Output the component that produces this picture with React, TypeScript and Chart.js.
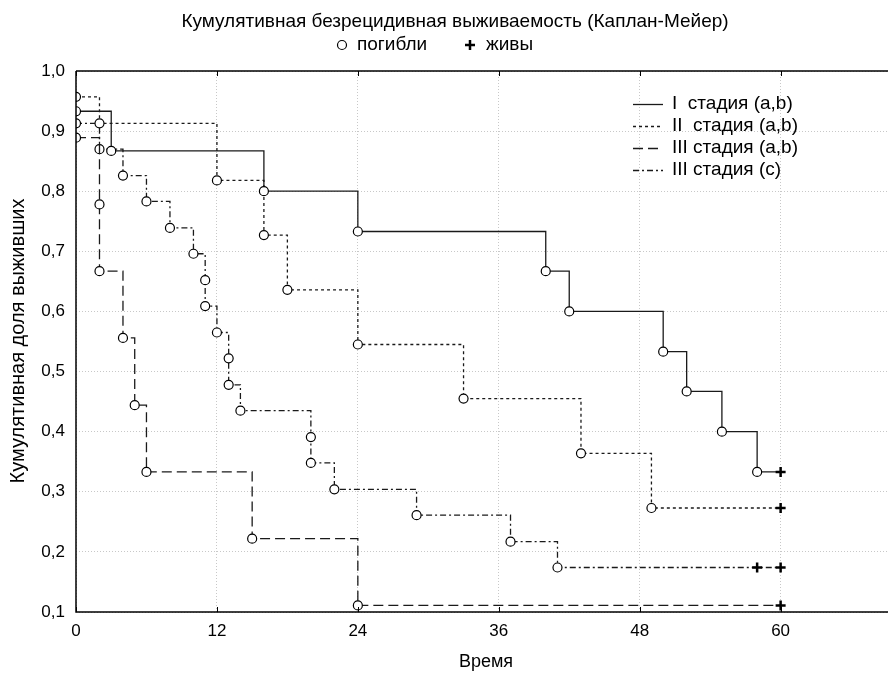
import React, { useEffect, useRef } from 'react';
import { Chart, registerables } from 'chart.js';

Chart.register(...registerables);

const chartTitle = 'Кумулятивная безрецидивная выживаемость (Каплан-Мейер)';
const markerLegendLabels = ['погибли', 'живы'];
const seriesLabels = ['I  стадия (a,b)', 'II  стадия (a,b)', 'III стадия (a,b)', 'III стадия (c)'];
const xAxisTitle = 'Время';
const yAxisTitle = 'Кумулятивная доля выживших';

const xTickValues = [0, 12, 24, 36, 48, 60, 72];
const xTickLabels = ['0', '12', '24', '36', '48', '60', '72'];
const yTickValues = [0.1, 0.2, 0.3, 0.4, 0.5, 0.6, 0.7, 0.8, 0.9, 1.0];
const yTickLabels = ['0,1', '0,2', '0,3', '0,4', '0,5', '0,6', '0,7', '0,8', '0,9', '1,0'];

// Stage I (a,b)
const stageITimes = [0, 3, 16, 24, 40, 42, 50, 52, 55, 58];
const stageIValues = [0.933, 0.867, 0.8, 0.733, 0.667, 0.6, 0.533, 0.467, 0.4, 0.333];
const stageICensored = [60];

// Stage II (a,b)
const stageIITimes = [0, 2, 12, 16, 18, 24, 33, 43, 49];
const stageIIValues = [0.957, 0.913, 0.818, 0.727, 0.636, 0.545, 0.455, 0.364, 0.273];
const stageIICensored = [60];

// Stage III (a,b)
const stageIIIabTimes = [0, 2, 2, 4, 5, 6, 15, 24];
const stageIIIabValues = [0.889, 0.778, 0.667, 0.556, 0.444, 0.333, 0.222, 0.111];
const stageIIIabCensored = [60];

// Stage III (c)
const stageIIIcTimes = [0, 2, 4, 6, 8, 10, 11, 11, 12, 13, 13, 14, 20, 20, 22, 29, 37, 41];
const stageIIIcValues = [0.913, 0.87, 0.826, 0.783, 0.739, 0.696, 0.652, 0.609, 0.565, 0.522, 0.478, 0.435, 0.391, 0.348, 0.304, 0.261, 0.217, 0.174];
const stageIIIcCensored = [58, 60];

const seriesDashes = [[], [3, 3], [10, 5], [6, 3, 2, 3]];

const FONT = '"Liberation Sans", Arial, sans-serif';
const FS = 17;
const TFS = 19;
const LINE = '#1a1a1a';

type KP = { x: number; y: number; kind: string };

function kmPoints(times: number[], values: number[], censored: number[]): KP[] {
  const pts: KP[] = [];
  let prev: number | null = null;
  times.forEach((t, i) => {
    if (prev !== null) pts.push({ x: t, y: prev, kind: 'corner' });
    pts.push({ x: t, y: values[i], kind: 'event' });
    prev = values[i];
  });
  censored.forEach((t) => pts.push({ x: t, y: prev as number, kind: 'censor' }));
  return pts;
}

const decorPlugin = {
  id: 'decor',
  afterDraw(chart: any) {
    const { ctx, chartArea: a, scales } = chart;
    const xs = scales.x;
    ctx.save();
    ctx.setLineDash([]);
    ctx.strokeStyle = '#000';
    ctx.lineWidth = 1.5;
    ctx.beginPath();
    ctx.moveTo(a.left, a.top);
    ctx.lineTo(a.left, a.bottom);
    ctx.lineTo(a.right + 40, a.bottom);
    ctx.moveTo(a.left, a.top);
    ctx.lineTo(a.right + 40, a.top);
    ctx.stroke();
    ctx.lineWidth = 1;
    ctx.beginPath();
    xTickValues.forEach((v) => {
      const px = Math.round(xs.getPixelForValue(v)) + 0.5;
      ctx.moveTo(px, a.bottom);
      ctx.lineTo(px, a.bottom - 5);
      ctx.moveTo(px, a.top);
      ctx.lineTo(px, a.top + 5);
    });
    ctx.stroke();

    ctx.fillStyle = '#000';
    ctx.font = `${TFS}px ${FONT}`;
    ctx.textBaseline = 'middle';
    ctx.textAlign = 'center';
    ctx.fillText(chartTitle, 455, 22);

    // marker legend
    const ly = 45;
    ctx.lineWidth = 1.2;
    ctx.beginPath();
    ctx.arc(342, ly, 4.5, 0, Math.PI * 2);
    ctx.fillStyle = '#fff';
    ctx.fill();
    ctx.stroke();
    ctx.fillStyle = '#000';
    ctx.textAlign = 'left';
    ctx.fillText(markerLegendLabels[0], 357, ly);
    ctx.lineWidth = 2.5;
    ctx.beginPath();
    ctx.moveTo(465, ly);
    ctx.lineTo(475, ly);
    ctx.moveTo(470, ly - 5);
    ctx.lineTo(470, ly + 5);
    ctx.stroke();
    ctx.fillText(markerLegendLabels[1], 486, ly);

    // series legend
    const rows = [104, 126, 148, 170];
    seriesLabels.forEach((lbl, i) => {
      ctx.strokeStyle = LINE;
      ctx.lineWidth = 1.3;
      ctx.setLineDash(seriesDashes[i]);
      ctx.beginPath();
      ctx.moveTo(633, rows[i] + 0.5);
      ctx.lineTo(663, rows[i] + 0.5);
      ctx.stroke();
      ctx.setLineDash([]);
      ctx.fillStyle = '#000';
      ctx.textAlign = 'left';
      ctx.fillText(lbl, 672, rows[i]);
    });

    // axis titles
    ctx.textAlign = 'center';
    ctx.font = `18px ${FONT}`;
    ctx.fillText(xAxisTitle, 486, 662);
    ctx.font = `20px ${FONT}`;
    ctx.save();
    ctx.translate(18, 341);
    ctx.rotate(-Math.PI / 2);
    ctx.fillText(yAxisTitle, 0, 0);
    ctx.restore();
    ctx.restore();
  },
};

export default function App() {
  const ref = useRef<HTMLCanvasElement>(null);
  useEffect(() => {
    if (!ref.current) return;
    const sets = [
      kmPoints(stageITimes, stageIValues, stageICensored),
      kmPoints(stageIITimes, stageIIValues, stageIICensored),
      kmPoints(stageIIIabTimes, stageIIIabValues, stageIIIabCensored),
      kmPoints(stageIIIcTimes, stageIIIcValues, stageIIIcCensored),
    ];
    const chart = new Chart(ref.current, {
      type: 'line',
      data: {
        datasets: sets.map((pts, i) => ({
          label: seriesLabels[i],
          data: pts,
          borderColor: LINE,
          borderWidth: 1.3,
          borderDash: seriesDashes[i],
          fill: false,
          tension: 0,
          pointStyle: (c: any) => (c.raw && c.raw.kind === 'censor' ? 'cross' : 'circle'),
          pointRadius: (c: any) => (!c.raw || c.raw.kind === 'corner' ? 0 : c.raw.kind === 'censor' ? 5 : 4.5),
          pointBorderWidth: (c: any) => (c.raw && c.raw.kind === 'censor' ? 2.5 : 1.2),
          pointBorderColor: '#000',
          pointBackgroundColor: '#fff',
          pointHoverRadius: 0,
        })),
      },
      options: {
        responsive: false,
        devicePixelRatio: 1,
        animation: false,
        events: [],
        layout: { padding: { left: 0, top: 71, right: 18, bottom: 0 } },
        plugins: { legend: { display: false }, tooltip: { enabled: false }, title: { display: false } },
        scales: {
          x: {
            type: 'linear',
            min: 0,
            max: 72,
            afterBuildTicks: (s: any) => {
              s.ticks = xTickValues.map((v) => ({ value: v }));
            },
            afterFit: (s: any) => {
              s.height = 63;
            },
            ticks: {
              autoSkip: false,
              maxRotation: 0,
              padding: 9,
              color: '#000',
              font: { family: FONT, size: FS },
              callback: (_v: any, i: number) => xTickLabels[i],
            },
            grid: { color: '#c8c8c8', lineWidth: 1, drawTicks: false },
            border: { display: false, dash: [1, 2] },
          },
          y: {
            type: 'linear',
            min: 0.1,
            max: 1.0,
            afterBuildTicks: (s: any) => {
              s.ticks = yTickValues.map((v) => ({ value: v }));
            },
            afterFit: (s: any) => {
              s.width = 76;
            },
            ticks: {
              padding: 11,
              color: '#000',
              font: { family: FONT, size: FS },
              callback: (_v: any, i: number) => yTickLabels[i],
            },
            grid: { color: '#c8c8c8', lineWidth: 1, drawTicks: false },
            border: { display: false, dash: [1, 2] },
          },
        },
      },
      plugins: [decorPlugin],
    });
    return () => chart.destroy();
  }, []);
  return (
    <div style={{ position: 'absolute', left: 0, top: 0, width: 888, height: 675, overflow: 'hidden', background: '#fff' }}>
      <canvas ref={ref} width={940} height={675} style={{ display: 'block', width: 940, height: 675 }} />
    </div>
  );
}
